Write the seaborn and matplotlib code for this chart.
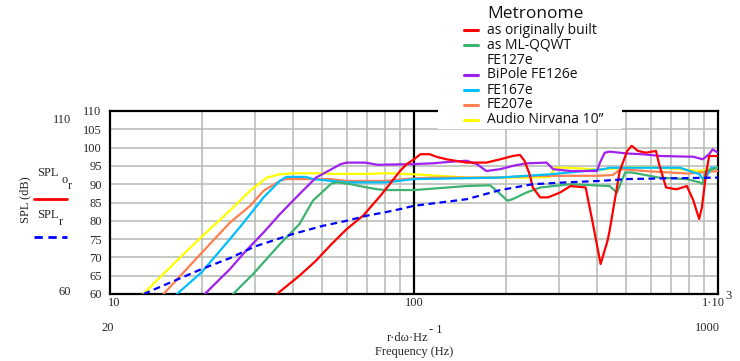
import matplotlib
matplotlib.use("Agg")
import matplotlib.pyplot as plt
from matplotlib.lines import Line2D
from matplotlib.patches import Rectangle
import seaborn as sns
import pandas as pd

# ---------------- data ----------------
red_f = [35.4, 42, 47.6, 53.5, 60, 68, 77.5, 90, 94.6, 100, 105, 112.5, 118.5, 128, 149, 173, 192, 211,
         223, 231, 240, 246, 260, 276, 302, 327, 367, 386, 411, 433, 440, 475, 503, 520, 545, 580, 625,
         640, 675, 730, 790, 830, 867, 885, 913, 935, 1000]
red_db = [60, 65, 69.1, 73.6, 77.7, 81.4, 86.8, 93.6, 95.5, 96.8, 98.2, 98.2, 97.5, 96.8, 95.9, 95.9,
          96.8, 97.7, 98, 96.4, 92.7, 89.1, 86.4, 86.4, 87.7, 89.5, 89.1, 80, 68.2, 74.5, 77.3, 93.6,
          99.1, 100.5, 99.1, 98.6, 99.1, 95.5, 89.1, 88.6, 89.5, 85.5, 80.5, 83.6, 92.7, 97.7, 97.7]

green_f = [25.4, 29.6, 36.2, 42, 46.5, 53.5, 56, 62, 70, 76, 81, 100, 149, 178, 187, 203, 211, 234, 260,
           327, 440, 465, 495, 520, 640, 790, 870, 890, 910, 1000]
green_db = [60, 65.5, 73.6, 79.1, 85.5, 90.2, 90.5, 90, 89.1, 88.6, 88.4, 88.4, 89.5, 89.7, 88.2, 85.5,
            85.9, 87.7, 89.1, 90, 89.5, 87.7, 93.2, 93.2, 91.8, 91.4, 90.5, 90, 93.6, 94.5]

purple_f = [20.5, 24.8, 28, 32, 36.2, 42, 47.6, 53.5, 57.5, 60, 69, 76, 100, 115, 135, 149, 161, 173,
            192, 211, 234, 273, 287, 327, 400, 409, 424, 440, 500, 560, 650, 830, 890, 935, 960, 1000]
purple_db = [60, 66.8, 71.8, 76.8, 81.8, 87.3, 91.8, 94.1, 95.5, 95.9, 95.9, 95.3, 95.5, 95.7, 96.2,
             96.4, 95.5, 93.6, 94.1, 95, 95.7, 95.9, 94.1, 93.6, 93.6, 95.9, 98.6, 98.9, 98.4, 98.2,
             97.7, 97.5, 96.8, 98.2, 99.5, 98.6]

cyan_f = [16.6, 20, 24.8, 27.2, 32, 36.2, 38, 44, 46.5, 53.5, 60, 81, 100, 190, 280, 420, 440, 600, 750,
          870, 900, 950, 1000]
cyan_db = [60, 65.9, 75, 79, 86.4, 90.9, 92, 92, 91.4, 90.9, 90.5, 90.5, 91.4, 91.8, 92.7, 94.1, 94.5,
           94.5, 94.5, 92.7, 90.9, 94.5, 94.5]

orange_f = [15.0, 20, 24.8, 28.9, 32, 36.2, 38, 53, 60, 81, 90, 100, 115, 190, 250, 290, 400, 450, 480,
            600, 800, 1000]
orange_db = [60, 71.2, 79.5, 84.1, 88.2, 90.9, 91.4, 91.4, 90.9, 90.9, 91.3, 91.6, 91.8, 91.8, 92.3,
             92.3, 92.3, 92.5, 94.1, 93.5, 92.9, 93.6]

yellow_f = [12.86, 17.0, 21.3, 24.8, 28.9, 32.8, 36.2, 40, 49, 55, 70, 81, 100, 115, 150, 192, 246, 280,
            290, 318, 409, 525, 679, 873, 993]
yellow_db = [60, 70, 77.7, 82.8, 88.2, 91.8, 92.7, 93.0, 93, 92.8, 92.8, 93, 92.7, 92.4, 91.8, 91.8,
             91.8, 92.0, 94.5, 94.5, 94.0, 94.6, 94.4, 93.6, 94.5]

ref_f = [12.9, 20, 24.8, 30, 40, 50, 60, 70, 80, 90, 100, 149, 192, 246, 317, 410, 500, 680, 1000]
ref_db = [60, 66.8, 69.8, 73.0, 76.4, 78.6, 80, 81.4, 82.3, 83.2, 84.1, 85.9, 88.4, 90, 90.5, 90.9,
          91.4, 91.6, 91.8]

legend_title = "Metronome"
legend_labels = ["as originally built", "as ML-QQWT", "FE127e", "BiPole FE126e", "FE167e", "FE207e",
                 "Audio Nirvana 10\u201d"]
legend_colors = ["#ff0000", "#3cb371", None, "#a020f0", "#00bfff", "#ff7f50", "#ffff00"]
y_ticks = [60, 65, 70, 75, 80, 85, 90, 95, 100, 105, 110]

# ---------------- figure ----------------
sns.set_style("white")
plt.rcParams['font.family'] = ['Liberation Serif', 'DejaVu Serif']

W, H = 740, 361
fig = plt.figure(figsize=(W / 100, H / 100), dpi=100)
fig.patch.set_facecolor("white")

def fx(px):
    return px / W

def fy(py):
    return 1 - py / H

ax = fig.add_axes([fx(110), fy(294), fx(718) - fx(110), fy(111) - fy(294)])
ax.set_xscale("log")

series = [
    (yellow_f, yellow_db, "#ffff00"),
    (orange_f, orange_db, "#ff7f50"),
    (cyan_f, cyan_db, "#00bfff"),
    (green_f, green_db, "#3cb371"),
    (purple_f, purple_db, "#a020f0"),
    (red_f, red_db, "#ff0000"),
]
for f, d, c in series:
    df = pd.DataFrame({"f": f, "db": d})
    sns.lineplot(data=df, x="f", y="db", ax=ax, color=c, lw=1.6, sort=False, estimator=None, zorder=3)

dfr = pd.DataFrame({"f": ref_f, "db": ref_db})
sns.lineplot(data=dfr, x="f", y="db", ax=ax, color="#0000ff", lw=1.6, sort=False, estimator=None,
             zorder=4, linestyle=(0, (3, 2)))

ax.set_xlim(10, 1000)
ax.set_ylim(60, 110)
ax.set_xlabel("")
ax.set_ylabel("")

grid_c = "#b4bab4"
minor_x = [20, 30, 40, 50, 60, 70, 80, 90, 200, 300, 400, 500, 600, 700, 800, 900]
for v in minor_x:
    ax.axvline(v, color=grid_c, lw=1.1, zorder=1)
for v in y_ticks[1:-1]:
    ax.axhline(v, color=grid_c, lw=1.1, zorder=1)
ax.axvline(100, color="black", lw=1.6, zorder=2)

ax.set_yticks(y_ticks)
ax.set_yticklabels([str(v) for v in y_ticks], fontsize=9)
ax.tick_params(axis="y", length=0, pad=6)
ax.set_xticks([])
ax.set_xticks([], minor=True)
for s in ax.spines.values():
    s.set_color("black")
    s.set_linewidth(1.6)

# x tick labels (manual, Mathcad style)
fig.text(fx(114), fy(303), "10", ha="center", va="center", fontsize=9)
fig.text(fx(414), fy(303), "100", ha="center", va="center", fontsize=9)
fig.text(fx(713), fy(303), "1\u00b710", ha="center", va="center", fontsize=9)
fig.text(fx(729), fy(296), "3", ha="center", va="center", fontsize=9)

# bottom labels
fig.text(fx(108), fy(328), "20", ha="center", va="center", fontsize=9)
fig.text(fx(707), fy(328), "1000", ha="center", va="center", fontsize=9)
fig.text(fx(408), fy(338), "r\u00b7d\u03c9\u00b7Hz", ha="center", va="center", fontsize=9)
fig.text(fx(436), fy(330), "- 1", ha="center", va="center", fontsize=9)
fig.text(fx(414), fy(352), "Frequency (Hz)", ha="center", va="center", fontsize=9)

# left labels
fig.text(fx(25), fy(200), "SPL (dB)", ha="center", va="center", rotation=90, fontsize=9)
fig.text(fx(62), fy(120), "110", ha="center", va="center", fontsize=9)
fig.text(fx(65), fy(292), "60", ha="center", va="center", fontsize=9)
fig.text(fx(48), fy(173), "SPL", ha="center", va="center", fontsize=9)
fig.text(fx(65), fy(180), "o", ha="center", va="center", fontsize=9)
fig.text(fx(70), fy(186), "r", ha="center", va="center", fontsize=9)
fig.add_artist(Line2D([fx(34), fx(67)], [fy(199), fy(199)], color="#ff0000", lw=2.0))
fig.text(fx(48), fy(215), "SPL", ha="center", va="center", fontsize=9)
fig.text(fx(61), fy(222), "r", ha="center", va="center", fontsize=9)
fig.add_artist(Line2D([fx(34), fx(67)], [fy(237), fy(237)], color="#0000ff", lw=2.0,
                      linestyle=(0, (3, 2))))

# legend box (white, covering top of plot frame)
fig.add_artist(Rectangle((fx(438), fy(129)), fx(622) - fx(438), fy(0) - fy(129),
                         transform=fig.transFigure, facecolor="white", edgecolor="none", zorder=5))
fig.text(fx(487), fy(14), legend_title, ha="left", va="center", fontsize=12.5,
         family=["Open Sans", "DejaVu Sans"], zorder=6, color="#111111")
ys = [30, 45, 60, 75, 90, 105, 120]
for lab, col, yy in zip(legend_labels, legend_colors, ys):
    fig.text(fx(487), fy(yy), lab, ha="left", va="center", fontsize=10,
             family=["Open Sans", "DejaVu Sans"], zorder=6, color="#111111")
    if col is not None:
        fig.add_artist(Line2D([fx(464), fx(478)], [fy(yy), fy(yy)], color=col, lw=2.2, zorder=6))

fig.savefig("out.png", dpi=100)
